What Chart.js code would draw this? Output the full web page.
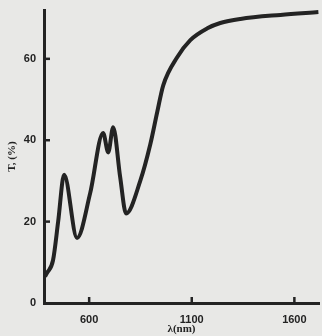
<!DOCTYPE html>
<html>
<head>
<meta charset="utf-8">
<script src="https://cdn.jsdelivr.net/npm/chart.js@4/dist/chart.umd.min.js"></script>
<style>
  html, body { margin: 0; padding: 0; background: #e8e8e6; }
  #wrap { width: 322px; height: 336px; }
</style>
</head>
<body>
<div id="wrap"><canvas id="chart" width="322" height="336"></canvas></div>
<script>
// wavelength (nm) and transmittance (%)
const wavelengths = [385, 395, 424, 449, 478, 541, 605, 668, 693, 717, 751, 780, 849, 898, 932, 961, 1029, 1093, 1176, 1239, 1337, 1532, 1717];
const transmittance = [6.5, 7.4, 10.5, 20, 31.5, 16, 27, 41.8, 37, 43.2, 31, 22, 30, 39, 47, 53.5, 60.4, 64.6, 67.5, 68.8, 69.8, 70.8, 71.5];
const xTicks = [600, 1100, 1600];
const yTicks = [0, 20, 40, 60];

const ink = '#232323';

// ticks in this figure point into the plot area
const inwardTicks = {
    id: 'inwardTicks',
    afterDraw(chart) {
        const ctx = chart.ctx;
        const area = chart.chartArea;
        const xs = chart.scales.x;
        const ys = chart.scales.y;
        ctx.save();
        ctx.strokeStyle = ink;
        ctx.lineWidth = 2.5;
        xTicks.forEach(v => {
            const px = xs.getPixelForValue(v);
            ctx.beginPath();
            ctx.moveTo(px, area.bottom);
            ctx.lineTo(px, area.bottom - 6);
            ctx.stroke();
        });
        yTicks.slice(1).forEach(v => {
            const py = ys.getPixelForValue(v);
            ctx.beginPath();
            ctx.moveTo(area.left, py);
            ctx.lineTo(area.left + 6, py);
            ctx.stroke();
        });
        ctx.restore();
    }
};

const points = wavelengths.map((w, i) => ({ x: w, y: transmittance[i] }));

new Chart(document.getElementById('chart'), {
    type: 'line',
    data: {
        datasets: [{
            data: points,
            borderColor: ink,
            borderWidth: 4,
            pointRadius: 0,
            fill: false,
            cubicInterpolationMode: 'monotone'
        }]
    },
    options: {
        responsive: false,
        animation: false,
        layout: { padding: { top: 10, right: 3, left: 0, bottom: 0 } },
        plugins: { legend: { display: false }, tooltip: { enabled: false } },
        scales: {
            x: {
                type: 'linear',
                min: 380,
                max: 1720,
                grid: { display: false },
                border: { display: true, color: ink, width: 3 },
                afterBuildTicks: s => { s.ticks = xTicks.map(v => ({ value: v })); },
                afterFit: s => { s.height = 33; },
                ticks: {
                    color: ink,
                    padding: 2,
                    callback: v => String(v),
                    font: { family: 'Liberation Sans', size: 11, weight: 'bold' }
                },
                title: {
                    display: true,
                    text: 'λ(nm)',
                    color: ink,
                    padding: { top: 0, bottom: 0 },
                    font: { family: 'Liberation Serif', size: 11, weight: 'bold' }
                }
            },
            y: {
                min: 0,
                max: 72,
                grid: { display: false },
                border: { display: true, color: ink, width: 3 },
                afterBuildTicks: s => { s.ticks = yTicks.map(v => ({ value: v })); },
                afterFit: s => { s.width = 44; },
                ticks: {
                    color: ink,
                    padding: 0,
                    callback: v => String(v),
                    font: { family: 'Liberation Sans', size: 11, weight: 'bold' }
                },
                title: {
                    display: true,
                    text: 'T, (%)',
                    color: ink,
                    padding: { top: 6, bottom: 0 },
                    font: { family: 'Liberation Serif', size: 11, weight: 'bold' }
                }
            }
        }
    },
    plugins: [inwardTicks]
});
</script>
</body>
</html>
